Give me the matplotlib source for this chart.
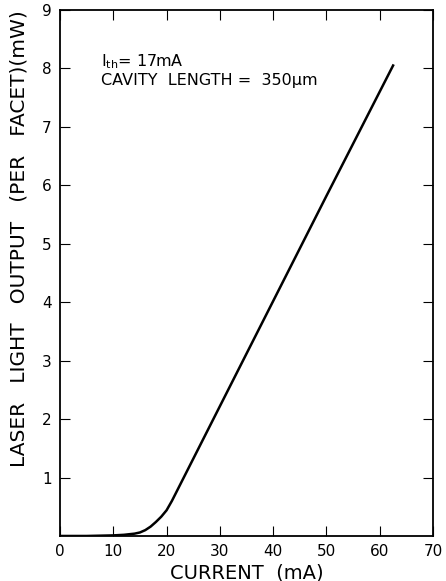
import matplotlib
matplotlib.use("Agg")
import matplotlib.pyplot as plt

# Light output vs drive current
current_ma = [0, 5, 10, 12, 14, 15, 16, 17, 18, 19, 20, 21, 22, 25, 30, 40, 50, 62.5]
power_mw = [0.0, 0.0, 0.01, 0.02, 0.04, 0.06, 0.10, 0.16, 0.24, 0.33, 0.44, 0.60,
            0.78, 1.32, 2.22, 4.02, 5.82, 8.05]

x_ticks = [0, 10, 20, 30, 40, 50, 60, 70]
y_ticks = [1, 2, 3, 4, 5, 6, 7, 8, 9]

plt.rcParams["font.family"] = ["DejaVu Sans"]

fig = plt.figure(figsize=(4.46, 5.81), dpi=100)
ax = fig.add_axes([0.1345, 0.0775, 0.8365, 0.9053])

ax.plot(current_ma, power_mw, color="black", linewidth=1.8)

ax.set_xlim(0, 70)
ax.set_ylim(0, 9)
ax.set_xticks(x_ticks)
ax.set_yticks(y_ticks)
ax.tick_params(direction="in", length=7, width=0.8, top=True, right=True,
               labelsize=11, pad=6)
for s in ax.spines.values():
    s.set_linewidth(1.3)

ax.set_xlabel("CURRENT  (mA)", fontsize=14, labelpad=3)
ax.set_ylabel("LASER   LIGHT   OUTPUT   (PER   FACET)(mW)", fontsize=14.5)
ax.yaxis.set_label_coords(-0.085, 0.565)

ax.text(0.11, 0.893, r"I$_{\rm th}$= 17mA", transform=ax.transAxes, fontsize=11.5)
ax.text(0.11, 0.858, "CAVITY  LENGTH =  350\u03bcm", transform=ax.transAxes,
        fontsize=11.5)

fig.savefig("out.png", dpi=100)
